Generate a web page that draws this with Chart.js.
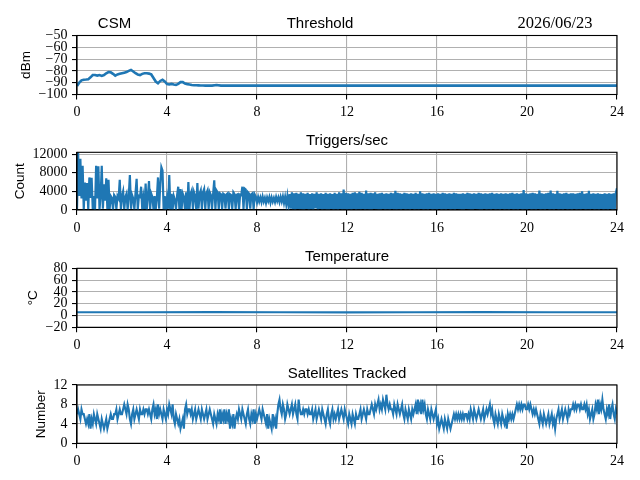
<!DOCTYPE html>
<html><head><meta charset="utf-8">
<script src="https://cdn.jsdelivr.net/npm/chart.js@4.4.1/dist/chart.umd.min.js"></script>
<style>
html,body{margin:0;padding:0;background:#fff;}
#wrap{position:relative;width:640px;height:480px;background:#fff;}
canvas{position:absolute;left:0;top:0;}
</style></head><body>
<div id="wrap">
<canvas id="c1" width="640" height="480"></canvas>
<canvas id="c2" width="640" height="480"></canvas>
<canvas id="c3" width="640" height="480"></canvas>
<canvas id="c4" width="640" height="480"></canvas>
</div>
<script>
// ---------------- DATA ----------------
const hourTicks = [0, 4, 8, 12, 16, 20, 24];

const threshStep = 0.1; // hours between samples for the first part
const threshDbm = [
  -92.7,-90,-88,-87.5,-87.3,-87,-85.5,-83.5,-83.5,-84,
  -83.5,-84.2,-83.5,-82,-81,-81.2,-82.5,-84,-83,-82.5,
  -82,-81.5,-81,-80,-79.2,-80.5,-82,-83,-83.5,-82.5,
  -82,-82,-82.3,-83,-86,-89,-90.5,-88.5,-87.5,-89,
  -91.2,-91.5,-91,-91.5,-91.8,-91,-89.5,-89.5,-90.8,-91.2,
  -91.5,-92,-92.2,-92.2,-92.3,-92.4,-92.4,-92.5,-92.4,-92.5,
  -92.5
];
const threshTailHours = [6.2, 6.4, 7, 9, 12, 15, 18, 21, 24];
const threshTailDbm = [-92, -92.5, -92.5, -92.5, -92.5, -92.5, -92.5, -92.5, -92.5];

const trigStep = 0.05; // hours between samples
const triggers = [
  // 0h
  150,12400,3000,11000,2500,9500,100,5900,2000,5800,150,7000,2600,6900,200,3000,100,9500,2500,9400,
  // 1h
  100,3000,9500,300,5500,2000,6800,150,6500,200,3000,2600,100,3200,2800,250,3000,2500,6500,150,
  // 2h
  3000,4000,200,2800,3500,100,3000,7500,250,3200,2500,150,3600,6700,100,3000,2800,5000,150,2600,
  // 3h
  250,5700,100,3000,6200,200,3500,2800,150,3000,200,2600,7000,300,5500,9200,8500,150,3000,100,
  // 4h
  2500,250,7500,100,3500,100,3000,2200,200,3200,5000,150,4500,250,3500,2800,200,3800,150,6000,
  // 5h
  200,3500,4200,250,3800,3000,150,5800,300,3500,4200,200,3800,4500,250,3600,4200,200,3800,3200,
  // 6h
  250,3500,6400,200,4200,3800,250,3600,3400,200,3500,3300,300,3400,3600,200,3400,3200,250,3800,
  // 7h
  3400,250,3300,3400,200,3300,3200,5000,250,4600,4400,200,3800,3500,300,3400,3600,200,3300,2800,
  // 8h
  1600,2800,1800,2700,1700,2900,1800,2600,1500,2700,1900,2800,1600,2700,1800,2600,1700,2800,1900,2700,
  // 9h
  1700,2800,1800,2900,1500,2800,1200,3000,900,3400,300,3800,200,3600,150,3700,250,3500,200,3800,
  // 10h
  150,3600,100,3500,250,3700,150,3400,200,3600,100,3500,350,3800,150,3500,250,3600,100,3400,
  // 11h
  200,3700,150,3500,100,3600,250,3400,150,3700,200,3500,100,3800,250,3600,150,4400,200,3700,
  // 12h
  100,3600,200,3500,150,3700,250,3800,100,3600,200,3900,150,3700,250,3500,100,4200,200,3600,
  // 13h
  150,3700,100,3600,250,3800,200,3500,150,3600,100,3700,250,3500,150,3600,200,3500,100,3700,
  // 14h
  250,3600,150,4100,100,3700,200,3600,150,3500,250,3700,100,3600,200,3500,150,3600,250,3500,
  // 15h
  100,3700,200,3500,150,4000,250,3600,100,3500,200,3600,150,3700,250,3500,100,3600,200,3500,
  // 16h
  150,3600,250,3500,100,3700,200,3600,150,3500,250,3600,100,3500,200,3700,150,3600,250,3500,
  // 17h
  200,3500,100,3600,150,3500,250,3700,200,3600,100,3500,150,3600,250,3500,200,3700,100,3600,
  // 18h
  150,3500,250,3600,100,3500,200,3600,150,3700,250,3500,100,3600,200,3500,150,3600,250,3500,
  // 19h
  100,3600,200,3500,150,3600,250,3700,100,3500,200,3600,150,3500,250,3600,100,4300,200,3600,
  // 20h
  150,3500,250,3600,100,3700,200,3600,150,3500,250,4200,100,3600,200,3500,150,3600,250,3700,
  // 21h
  100,4200,200,3600,150,3500,250,4100,100,3600,200,3500,150,3600,250,3700,100,3500,200,3600,
  // 22h
  150,3600,250,3500,100,3600,200,3700,150,4000,250,3500,100,3600,200,4100,150,3500,250,3600,
  // 23h
  100,3500,200,3600,150,3500,250,3400,100,3600,200,3500,150,3600,250,3500,100,3600,200,3700,
  // 24h
  4700
];

const tempHours = [0, 3, 6, 9, 12, 15, 18, 21, 24];
const tempC = [5.5, 5.5, 5.6, 5.5, 5.4, 5.5, 5.6, 5.5, 5.5];

const satStep = 0.05; // hours between samples
const satellites = [
  6,7,6,5,7,6,6,5,4,5,4,6,3,5,4,6,5,4,6,5,
  4,3,5,4,3,4,5,3,4,5,6,5,5,6,6,7,5,6,7,6,
  6,7,8,7,6,8,7,5,4,6,7,5,6,7,6,5,7,6,6,7,
  6,7,7,6,7,6,5,7,8,6,7,5,8,6,7,6,5,7,6,5,
  7,6,8,7,6,8,5,4,6,5,4,5,3,4,5,3,7,8,6,7,
  7,6,7,5,6,7,5,6,7,6,5,7,6,5,6,7,5,6,7,6,
  5,4,6,5,4,6,5,7,4,6,5,7,4,6,5,7,3,5,4,6,
  3,5,6,5,7,6,5,7,6,5,4,6,7,5,4,6,5,7,4,6,
  5,6,7,6,5,7,6,5,4,6,3,5,4,3,6,4,5,3,6,8,
  9,7,6,8,7,5,6,8,7,6,7,8,6,7,8,6,5,9,7,6,
  6,7,6,7,7,6,7,6,6,7,5,6,7,5,6,7,6,5,7,6,
  5,4,6,7,5,4,6,7,5,6,5,6,7,5,6,7,6,5,7,6,
  5,4,6,5,4,6,5,4,6,5,5,6,7,5,6,7,6,5,7,6,
  6,7,8,7,6,8,7,8,9,7,8,7,9,8,7,10,8,7,8,7,
  7,6,8,7,6,8,7,6,7,8,6,5,7,6,5,7,6,5,7,6,
  7,8,6,9,7,8,6,9,7,8,6,5,7,6,5,7,6,5,6,7,
  4,5,3,4,5,4,3,5,4,3,5,4,3,4,5,6,5,6,5,6,
  5,6,5,6,5,6,6,5,6,5,7,6,5,7,6,5,6,7,6,5,
  6,7,5,6,7,6,7,8,6,7,5,4,6,5,4,6,5,4,6,5,
  4,5,3,6,5,6,5,6,5,6,7,8,7,8,7,8,7,8,8,7,
  7,8,7,8,7,6,7,6,7,6,5,4,6,5,4,6,5,4,5,6,
  4,5,6,4,5,3,5,6,7,5,6,7,5,6,7,6,5,7,6,7,
  7,8,7,8,7,8,8,7,8,7,7,8,7,8,6,7,5,6,7,5,
  6,8,7,9,6,8,7,9,7,6,5,7,6,8,5,7,8,6,5,7,
  6
];

const titles = ['Threshold', 'Triggers/sec', 'Temperature', 'Satellites Tracked'];
const yLabels = ['dBm', 'Count', '°C', 'Number'];
const headerLeft = 'CSM';
const headerRight = '2026/06/23';

// ---------------- BUILD ----------------
const BLUE = '#1f77b4';
const TICK_FAMILY = '"Liberation Serif", "DejaVu Serif", serif';
const TICK_SIZE = 14;
const SANS = '"Liberation Sans", "DejaVu Sans", sans-serif';
const fmt = v => String(v).replace('-', '\u2212');

const toXY = (xs, ys) => ys.map((y, i) => ({x: xs[i], y}));
const grid = (n, step) => Array.from({length: n}, (_, i) => +(i * step).toFixed(4));

const threshHours = grid(threshDbm.length, threshStep).concat(threshTailHours);
const threshAll = threshDbm.concat(threshTailDbm);
const trigHours = grid(triggers.length, trigStep);
const satHours = grid(satellites.length, satStep);

const framePlugin = {
  id: 'frame',
  afterDatasetsDraw(chart) {
    const {ctx, chartArea: a} = chart;
    ctx.save();
    ctx.strokeStyle = '#000';
    ctx.lineWidth = 1.1;
    ctx.strokeRect(a.left, a.top, a.right - a.left, a.bottom - a.top);
    ctx.restore();
  },
  afterDraw(chart, args, o) {
    const {ctx, chartArea: a} = chart;
    ctx.save();
    ctx.fillStyle = '#000';
    ctx.textBaseline = 'alphabetic';
    ctx.textAlign = 'center';
    const texts = o.texts || [];
    for (let i = 0; i < texts.length; i++) {
      const t = texts[i];
      ctx.font = t.font;
      ctx.fillText(t.text, t.x != null ? t.x : (a.left + a.right) / 2, a.top - 7.5);
    }
    // y axis label, placed just left of widest tick label
    const ys = chart.scales.y;
    ctx.font = TICK_SIZE + 'px ' + TICK_FAMILY;
    let w = 0;
    ys.ticks.forEach(tk => { w = Math.max(w, ctx.measureText(fmt(tk.value)).width); });
    const xr = a.left - 9.7 - w - 5.6;
    ctx.font = '13.5px ' + SANS;
    ctx.translate(xr, (a.top + a.bottom) / 2);
    ctx.rotate(-Math.PI / 2);
    ctx.textAlign = 'center';
    ctx.textBaseline = 'bottom';
    ctx.fillText(o.yLabel, 0, 0);
    ctx.restore();
  }
};

function makeChart(id, cfg) {
  const xAxisH = 25;
  return new Chart(document.getElementById(id), {
    type: 'line',
    data: {datasets: [{
      data: cfg.data,
      borderColor: BLUE,
      borderWidth: cfg.lw,
      borderJoinStyle: 'miter',
      pointRadius: 0,
      tension: 0,
      fill: false
    }]},
    options: {
      responsive: false,
      animation: false,
      events: [],
      layout: {padding: {left: 0, right: 23, top: cfg.top, bottom: 480 - cfg.bottom - xAxisH}},
      plugins: {
        legend: {display: false},
        tooltip: {enabled: false},
        title: {display: false},
        frame: {texts: cfg.texts, yLabel: cfg.yLabel}
      },
      scales: {
        x: {
          type: 'linear', min: 0, max: 24,
          afterFit: s => { s.height = xAxisH; },
          afterBuildTicks: s => { s.ticks = hourTicks.map(v => ({value: v})); },
          grid: {color: '#b0b0b0', lineWidth: 1.1, tickColor: '#000', tickLength: 5, tickWidth: 1.1},
          border: {display: true, color: '#000', width: 1.1},
          ticks: {autoSkip: false, maxRotation: 0, padding: 4.5, color: '#000',
                  font: {family: TICK_FAMILY, size: TICK_SIZE}, callback: v => fmt(v)}
        },
        y: {
          type: 'linear', min: cfg.ymin, max: cfg.ymax,
          afterFit: s => { s.width = 77; },
          afterBuildTicks: s => { s.ticks = cfg.yticks.map(v => ({value: v})); },
          grid: {color: '#b0b0b0', lineWidth: 1.1, tickColor: '#000', tickLength: 5, tickWidth: 1.1},
          border: {display: true, color: '#000', width: 1.1},
          ticks: {autoSkip: false, padding: 4.5, color: '#000',
                  font: {family: TICK_FAMILY, size: TICK_SIZE}, callback: v => fmt(v)}
        }
      }
    },
    plugins: [framePlugin]
  });
}

const TITLE_FONT = '15px ' + SANS;
const DATE_FONT = '16.5px ' + TICK_FAMILY;

makeChart('c1', {
  top: 35.5, bottom: 94.5, ymin: -100, ymax: -50, yticks: [-100, -90, -80, -70, -60, -50],
  data: toXY(threshHours, threshAll), lw: 2.6, yLabel: yLabels[0],
  texts: [
    {text: headerLeft, font: TITLE_FONT, x: 114.5},
    {text: titles[0], font: TITLE_FONT, x: 320},
    {text: headerRight, font: DATE_FONT, x: 555}
  ]
});
makeChart('c2', {
  top: 152.3, bottom: 210, ymin: 0, ymax: 12400, yticks: [0, 4000, 8000, 12000],
  data: toXY(trigHours, triggers), lw: 2.2, yLabel: yLabels[1],
  texts: [{text: titles[1], font: TITLE_FONT}]
});
makeChart('c3', {
  top: 268.3, bottom: 327.3, ymin: -20, ymax: 80, yticks: [-20, 0, 20, 40, 60, 80],
  data: toXY(tempHours, tempC), lw: 2.2, yLabel: yLabels[2],
  texts: [{text: titles[2], font: TITLE_FONT}]
});
makeChart('c4', {
  top: 385, bottom: 443.3, ymin: 0, ymax: 12, yticks: [0, 4, 8, 12],
  data: toXY(satHours, satellites), lw: 2.1, yLabel: yLabels[3],
  texts: [{text: titles[3], font: TITLE_FONT}]
});
</script>
</body></html>
